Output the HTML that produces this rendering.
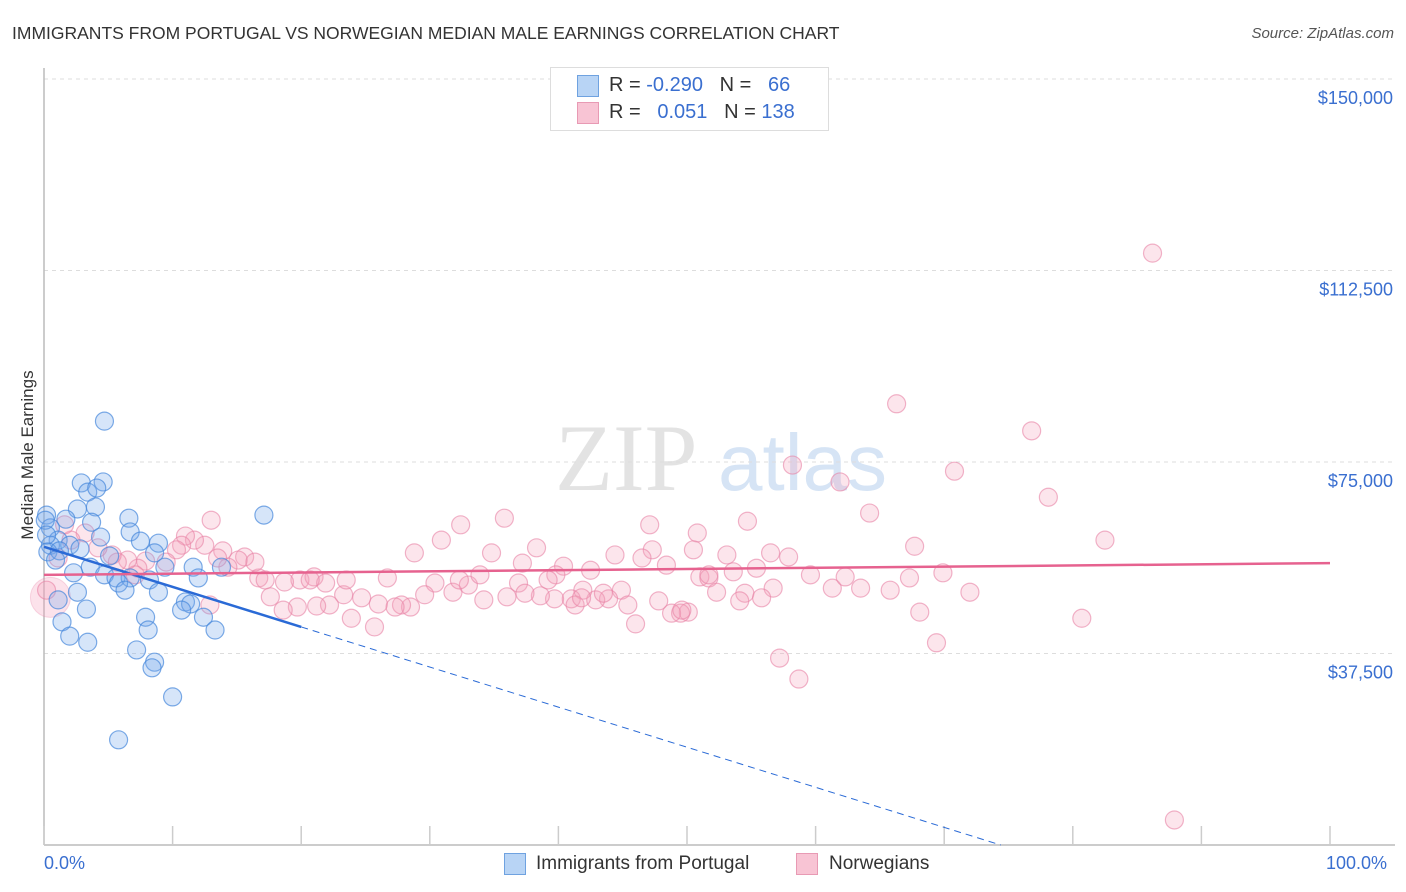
<!DOCTYPE html>
<html><head><meta charset="utf-8">
<style>
body{margin:0;background:#fff;font-family:"Liberation Sans",sans-serif;}
#wrap{position:relative;width:1406px;height:892px;overflow:hidden;}
.t{position:absolute;white-space:nowrap;}
</style></head>
<body>
<div id="wrap">
<div class="t" style="left:12px;top:23px;font-size:17.5px;color:#333;">IMMIGRANTS FROM PORTUGAL VS NORWEGIAN MEDIAN MALE EARNINGS CORRELATION CHART</div>
<div class="t" style="right:12px;top:25px;font-size:15px;color:#555;font-style:italic;">Source: ZipAtlas.com</div>
<div class="t" style="left:28px;top:455px;font-size:17px;color:#333;transform:translate(-50%,-50%) rotate(-90deg);">Median Male Earnings</div>
<svg id="plot" width="1406" height="892" style="position:absolute;left:0;top:0"></svg>
<div style="position:absolute;left:550px;top:67px;width:277px;height:62px;border:1px solid #ddd;background:#fff;"></div>
<div style="position:absolute;left:577px;top:75px;width:20px;height:20px;background:#b8d4f5;border:1px solid #6fa2e0;"></div>
<div style="position:absolute;left:577px;top:102px;width:20px;height:20px;background:#f8c4d4;border:1px solid #e89ab4;"></div>
<div class="t" style="left:609px;top:74px;font-size:20px;color:#333;">R = <span style="color:#3a6fd0">-0.290</span>&nbsp;&nbsp;&nbsp;N = &nbsp;&nbsp;<span style="color:#3a6fd0">66</span></div>
<div class="t" style="left:609px;top:101px;font-size:20px;color:#333;">R = &nbsp;&nbsp;<span style="color:#3a6fd0">0.051</span>&nbsp;&nbsp;&nbsp;N = <span style="color:#3a6fd0">138</span></div>
<div style="position:absolute;left:504px;top:853px;width:20px;height:20px;background:#b8d4f5;border:1px solid #6fa2e0;"></div>
<div class="t" style="left:536px;top:853px;font-size:19px;color:#333;">Immigrants from Portugal</div>
<div style="position:absolute;left:796px;top:853px;width:20px;height:20px;background:#f8c4d4;border:1px solid #e89ab4;"></div>
<div class="t" style="left:829px;top:853px;font-size:19px;color:#333;">Norwegians</div>
<div class="t" style="left:44px;top:853px;font-size:18px;color:#3a6fd0;">0.0%</div>
<div class="t" style="left:1326px;top:853px;font-size:18px;color:#3a6fd0;">100.0%</div>
</div>
<script>
const yTicks=[150000,112500,75000,37500];
const yTickLabels=["$150,000","$112,500","$75,000","$37,500"];
const blueX=[4.7,2.9,4.6,3.4,4.1,2.6,4.0,0.2,1.7,6.6,17.1,3.7,0.5,6.7,4.4,7.5,8.9,1.1,0.5,2.0,0.3,1.2,2.8,5.1,8.6,11.6,9.4,13.8,3.6,2.3,4.7,5.6,12.0,6.7,8.2,5.8,6.3,2.6,8.9,11.0,11.4,10.7,1.1,3.3,7.9,12.4,8.1,13.3,1.4,2.0,3.4,7.2,8.6,8.4,10.0,5.8,0.1,0.2,0.9];
const blueY=[83.0,70.9,71.1,69.1,69.9,65.8,66.2,64.6,63.8,64.0,64.6,63.2,62.1,61.3,60.3,59.5,59.1,59.7,58.7,58.7,57.4,57.6,58.0,56.6,57.2,54.4,54.4,54.4,54.4,53.3,52.9,52.3,52.3,52.3,51.9,51.3,49.9,49.5,49.5,47.6,47.2,46.0,48.0,46.2,44.6,44.6,42.1,42.1,43.7,40.9,39.7,38.2,35.8,34.7,29.0,20.6,63.6,60.7,55.8];
const pinkX=[86.2,66.3,76.8,58.2,70.8,61.9,78.1,64.2,82.5,67.7,54.7,47.1,50.8,35.8,32.4,44.4,30.9,28.8,34.8,38.3,37.2,40.4,39.8,42.5,47.3,46.5,50.5,53.1,56.5,57.9,53.6,51.0,51.7,48.4,55.4,56.7,54.5,54.1,52.3,50.1,49.5,48.8,47.8,46.0,44.9,43.9,42.9,43.5,41.9,41.0,39.7,38.6,36.9,37.4,36.0,34.2,33.0,31.8,30.4,29.6,28.5,27.8,26.7,26.0,25.7,24.7,23.3,23.9,22.2,21.2,19.7,18.6,17.6,16.7,17.2,15.6,15.1,16.4,14.3,13.9,13.5,13.0,12.5,11.7,11.0,10.7,10.3,9.5,7.9,7.3,7.1,6.5,5.7,5.3,4.2,3.2,2.1,1.6,1.1,0.2,19.9,21.0,23.5,27.3,59.6,61.3,63.5,62.3,65.8,67.3,68.1,69.4,69.9,72.0,80.7,57.2,58.7,87.9,12.9,18.7,21.9,20.7,32.3,33.9,39.2,41.3,41.8,45.4,49.6,51.7,55.8];
const pinkY=[115.9,86.4,81.1,74.4,73.2,71.1,68.1,65.0,59.7,58.5,63.4,62.7,61.1,64.0,62.7,56.8,59.7,57.2,57.2,58.2,55.2,54.6,52.9,53.8,57.8,56.2,57.8,56.8,57.2,56.4,53.5,52.5,52.3,54.8,54.2,50.3,49.3,47.8,49.5,45.6,45.4,45.4,47.8,43.3,49.9,48.2,48.0,49.3,49.9,48.2,48.2,48.8,51.3,49.3,48.6,48.0,50.9,49.5,51.3,49.0,46.6,47.0,52.3,47.2,42.7,48.4,49.0,44.4,47.0,46.8,46.6,46.0,48.6,52.3,51.9,56.4,55.8,55.4,54.4,57.6,56.2,63.6,58.7,59.7,60.5,58.7,57.8,55.4,55.6,54.2,52.9,55.8,55.4,56.8,58.2,61.1,59.7,62.7,56.2,49.9,51.9,52.5,51.9,46.6,52.9,50.3,50.3,52.5,49.9,52.3,45.6,39.6,53.3,49.5,44.4,36.6,32.5,4.9,47.0,51.5,51.3,51.9,51.9,52.9,51.9,47.0,48.4,47.0,46.0,52.9,48.4];
const blueFit=[58.4,-0.785]; // intercept (k$), slope per %
const pinkFit=[52.9,0.023];
const xTicks=[0,10,20,30,40,50,60,70,80,90,100];

const X0=44,X1=1330,Y0=845,YTOP=79;
const sx=p=>X0+(X1-X0)*p/100;
const sy=v=>Y0-(Y0-YTOP)*v/150000;
const svg=document.getElementById('plot');
const NS='http://www.w3.org/2000/svg';
function mk(tag,attrs){const e=document.createElementNS(NS,tag);for(const k in attrs)e.setAttribute(k,attrs[k]);svg.appendChild(e);return e;}
let wm=mk('text',{x:555,y:490,'font-size':95,'font-family':'Liberation Serif, serif',fill:'#e3e3e3'});wm.textContent='ZIP';


let wm2=mk('text',{x:718,y:490,'font-size':80,'font-family':'Liberation Sans, sans-serif',fill:'#d6e4f5'});wm2.textContent='atlas';


yTicks.forEach((v,i)=>{
  const g=mk('line',{x1:X0,x2:1395,y1:sy(v),y2:sy(v),stroke:'#ddd','stroke-dasharray':'4,4'});
  
  
  const t=mk('text',{x:1393,y:sy(v)+25,'text-anchor':'end','font-size':18,fill:'#3a6fd0','font-family':'Liberation Sans, sans-serif'});
  t.textContent=yTickLabels[i];
  
  
});
let ax=mk('line',{x1:X0,x2:X0,y1:68,y2:Y0,stroke:'#bbb','stroke-width':1.5});


let bx=mk('line',{x1:X0,x2:1395,y1:Y0,y2:Y0,stroke:'#bbb','stroke-width':1.5});


xTicks.forEach(p=>{
  const t=mk('line',{x1:sx(p),x2:sx(p),y1:Y0-19,y2:Y0,stroke:'#ccc','stroke-width':1.5});
  
  
});
let big=mk('circle',{cx:sx(0.5),cy:sy(48500),r:20,fill:'rgba(244,160,188,0.3)',stroke:'rgba(232,130,165,0.3)'});


pinkX.forEach((x,i)=>{
  const c=mk('circle',{cx:sx(x),cy:sy(pinkY[i]*1000),r:9,fill:'rgba(244,160,188,0.28)',stroke:'rgba(232,130,165,0.6)','stroke-width':1.2});
  
  
});
blueX.forEach((x,i)=>{
  const c=mk('circle',{cx:sx(x),cy:sy(blueY[i]*1000),r:9,fill:'rgba(120,170,235,0.3)',stroke:'rgba(70,135,220,0.7)','stroke-width':1.2});
  
  
});
const bf=p=>(blueFit[0]+blueFit[1]*p)*1000;
const pf=p=>(pinkFit[0]+pinkFit[1]*p)*1000;
let l1=mk('line',{x1:sx(0),y1:sy(bf(0)),x2:sx(20),y2:sy(bf(20)),stroke:'#2a6ad6','stroke-width':2.5});


const xEnd=-blueFit[0]/blueFit[1];
let l2=mk('line',{x1:sx(20),y1:sy(bf(20)),x2:sx(xEnd),y2:sy(0),stroke:'#2a6ad6','stroke-width':1,'stroke-dasharray':'7,5'});


let l3=mk('line',{x1:sx(0),y1:sy(pf(0)),x2:sx(100),y2:sy(pf(100)),stroke:'#e6628f','stroke-width':2.5});


</script>
</body></html>
